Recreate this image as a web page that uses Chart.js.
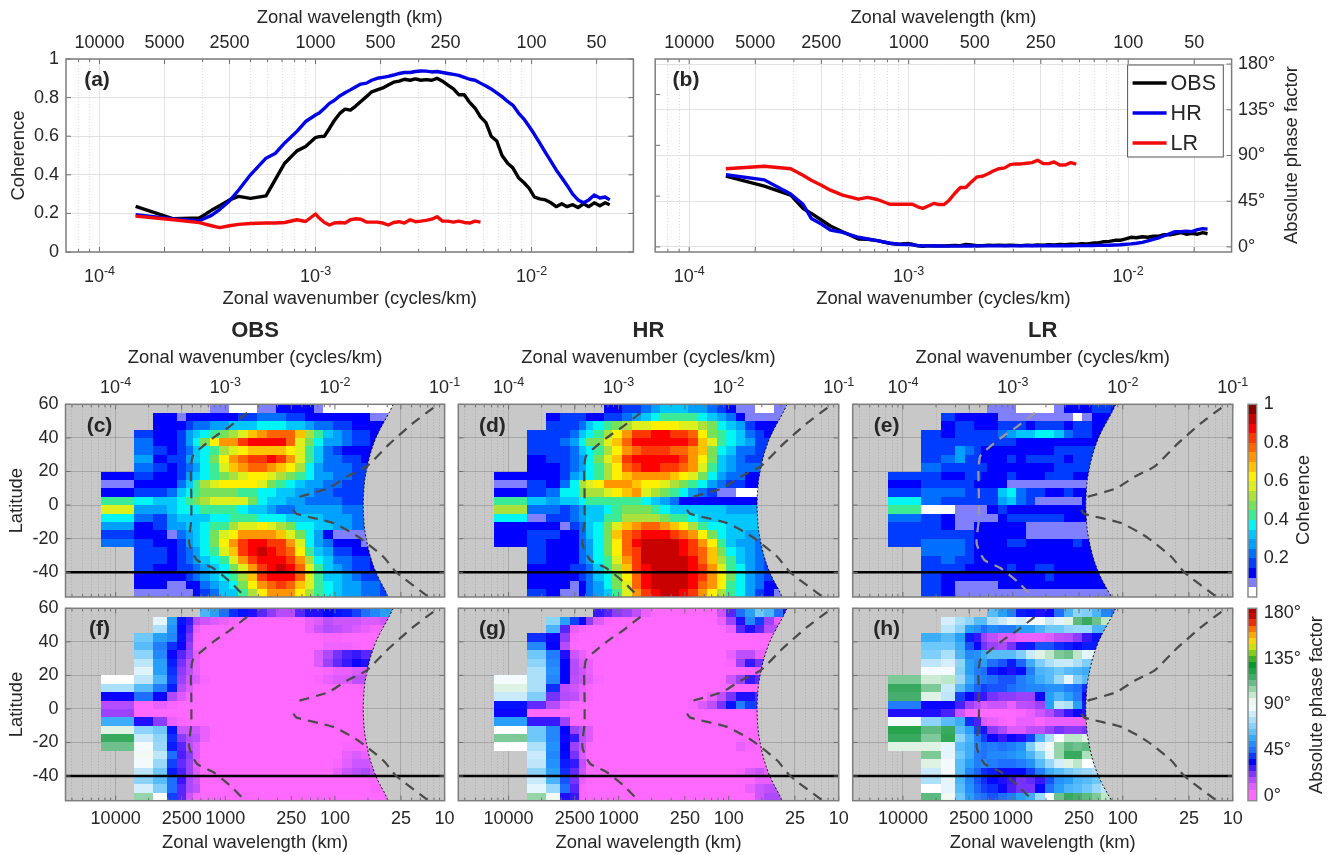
<!DOCTYPE html>
<html>
<head>
<meta charset="utf-8">
<title>Coherence and phase factor</title>
<script src="https://cdn.jsdelivr.net/npm/chart.js@4/dist/chart.umd.min.js"></script>
<style>
html, body { margin: 0; background: #fff; }
canvas { position: absolute; left: 0; top: 0; }
</style>
</head>
<body>
<script>
const _ = null;

// line panels (a) and (b)
const wavenumber = [
  1.47e-4, 2.2e-4, 2.9e-4, 3.3e-4, 3.6e-4, 4.0e-4, 4.4e-4, 5.0e-4, 5.9e-4, 6.5e-4, 7.2e-4, 8.2e-4, 9.0e-4,
  1.0e-3, 1.04e-3, 1.1e-3, 1.16e-3, 1.22e-3, 1.3e-3, 1.37e-3, 1.45e-3, 1.53e-3, 1.62e-3,
  1.72e-3, 1.82e-3, 1.93e-3, 2.05e-3, 2.17e-3, 2.3e-3, 2.44e-3, 2.58e-3, 2.74e-3, 2.9e-3,
  3.07e-3, 3.25e-3, 3.45e-3, 3.65e-3, 3.87e-3, 4.1e-3, 4.35e-3, 4.6e-3, 4.88e-3, 5.17e-3,
  5.48e-3, 5.8e-3, 6.15e-3, 6.5e-3, 6.9e-3, 7.3e-3, 7.75e-3, 8.2e-3, 8.7e-3, 9.2e-3, 9.75e-3,
  1.03e-2, 1.09e-2, 1.16e-2, 1.23e-2, 1.3e-2, 1.38e-2, 1.46e-2, 1.55e-2, 1.64e-2, 1.74e-2, 1.84e-2, 1.95e-2, 2.07e-2, 2.19e-2, 2.3e-2
];
const coherenceOBS = [
  .236, .172, .176, .216, .240, .270, .288, .278, .291, .374, .460, .524, .547,
  .593, .598, .600, .640, .680, .720, .740, .735, .755, .780,
  .805, .830, .840, .850, .865, .880, .885, .895, .890, .897,
  .890, .893, .890, .900, .885, .865, .845, .815, .815, .775,
  .745, .700, .670, .600, .575, .500, .460, .435, .385, .360, .330,
  .285, .275, .270, .255, .235, .250, .235, .245, .230, .250, .235, .255, .240, .255, .245
];
const coherenceHR = [
  .193, .171, .162, .190, .220, .265, .320, .400, .486, .510, .565, .625, .676,
  .710, .720, .745, .770, .785, .810, .825, .840, .855, .870,
  .875, .890, .900, .905, .910, .917, .925, .930, .930, .935,
  .938, .937, .933, .935, .930, .925, .920, .915, .905, .895,
  .890, .875, .860, .845, .825, .805, .780, .760, .720, .690, .650,
  .610, .565, .515, .470, .425, .385, .345, .300, .270, .255, .270, .295, .280, .285, .270
];
const coherenceLR = [
  .186, .167, .152, .136, .126, .136, .143, .148, .150, .150, .153, .167, .158,
  .197, .176, .153, .140, .150, .153, .150, .167, .172, .170,
  .155, .155, .155, .150, .140, .153, .157, .150, .167, .157,
  .160, .164, .170, .183, .160, .160, .155, .160, .153, .150,
  .160, .155
];
const phaseOBS = [
  69.6, 59.8, 51, 37.9, 33, 26.5, 20.6, 15, 7.8, 7.5, 6.2, 3.6, 2.6,
  3.3, 2.6, 1, .7, 1, 1, 1, 1, 1.2, 1.5,
  1.3, 2.5, 2, 1.2, 1.3, 1.6, 1.5, 1.8, 1.4, 1.6,
  1.5, 1.3, 1.8, 1.4, 2, 1.6, 2.2, 2, 2.5, 2.2,
  2.8, 2.5, 3.2, 3, 3.8, 4, 5.2, 5.5, 6.5, 6.5, 8,
  9.5, 9, 10, 9.5, 10.5, 10.5, 12, 12, 13, 14, 12.5, 13.5, 12.5, 14, 13
];
const phaseHR = [
  71, 66, 52, 42, 28, 22.5, 16.7, 14.4, 9.5, 7.8, 6.2, 3.6, 2.6,
  2.4, 2, 1.4, 1, 1, .9, .9, .8, .8, .8,
  .8, .9, .9, 1, 1, 1, 1, 1, 1, 1,
  1, 1, 1.1, 1.1, 1.1, 1.1, 1.2, 1.2, 1.2, 1.2,
  1.2, 1.3, 1.3, 1.3, 1.4, 1.5, 1.6, 1.7, 1.9, 2.1, 2.6,
  3, 3.6, 4.5, 6, 7.5, 9, 11, 13, 15, 15, 15.5, 15, 17, 18, 17.5
];
const phaseLR = [
  77, 79.4, 77, 70.6, 65.7, 60.8, 55.9, 51, 47, 48.7, 46.7, 42, 42,
  42, 42, 39.5, 38, 40, 42.8, 41.8, 41.8, 46, 52.6,
  58.5, 58.5, 64, 69, 69.6, 72, 75, 77, 77.8, 81,
  81.7, 81.7, 82.4, 83, 85.3, 82, 82, 83.7, 80.7, 80.7,
  83, 81.4
];

// axis labels
const lineWavelengths = [10000, 5000, 2500, 1000, 500, 250, 100, 50];
const heatWavelengths = [10000, 2500, 1000, 250, 100, 25, 10];
const lineDecades = [1e-4, 1e-3, 1e-2];
const heatDecades = [1e-4, 1e-3, 1e-2, 1e-1];
const latTicks = [60, 40, 20, 0, -20, -40];
const coherenceTicks = [0, .2, .4, .6, .8, 1];
const phaseTicks = [0, 45, 90, 135, 180];
const leftPhaseTicks = [0, 50, 100, 150];

// dashed curves, same in every map panel
const dashLeftK = [1.58e-3, 1.10e-3, 7.76e-4, 5.75e-4, 5.04e-4, 4.86e-4, 4.9e-4, 4.9e-4, 4.68e-4, 5.5e-4, 7.76e-4, 1.10e-3, 1.51e-3];
const dashLeftLat = [54.9, 46.9, 40, 33, 29, 21, 7.2, -8.7, -22.7, -32.6, -37.6, -45.5, -54.5];
const dashUpperK = [.0789, .0518, .0309, .0195, .0129, .0087, .00432];
const dashUpperLat = [57.9, 48.9, 36, 23, 17, 10, 4.2];
const dashLowerK = [.00417, .00447, .00966, .0162, .0275, .0363, .0708];
const dashLowerLat = [-2.8, -5.2, -10.7, -18.7, -30.6, -40, -54.5];

// right limit of the data
const edgeLat = [60, 55, 50, 45, 40, 35, 30, 25, 20, 15, 10, 5, 0, -5, -10, -15, -20, -25, -30, -35, -40, -45, -50, -54.7];
const edgeHigh = [.034, .0312, .0283, .0257, .0236, .0221, .0209, .02, .0193, .0187, .0184, .0182, .0181, .0182, .0184, .0187, .0193, .02, .0209, .0221, .0236, .0257, .0283, .0306];
const edgeLow = [.00864, .00793, .00719, .00653, .006, .00562, .00531, .00508, .0049, .00475, .00468, .00463, .0046, .00463, .00468, .00475, .0049, .00508, .00531, .00562, .006, .00653, .00719, .0079];

// map cells: column edges in cycles/km, row edges in degrees
const cellK = [7.3e-5, 1.46e-4, 2.2e-4, 2.95e-4, 3.65e-4, 4.4e-4, 5.1e-4, 5.85e-4, 7.3e-4, 8.76e-4, 1.07e-3, 1.31e-3, 1.6e-3, 1.95e-3, 2.38e-3, 2.9e-3, 3.55e-3, 4.3e-3, 5.3e-3, 6.4e-3, 7.8e-3, 9.5e-3, .0116, .0142, .0173, .021, .0257, .0314, .038];
const cellLat = [60, 55, 50, 45, 40, 35, 30, 25, 20, 15, 10, 5, 0, -5, -10, -15, -20, -25, -30, -35, -40, -45, -50, -55];

// coherence in percent
const mapOBS = [
  [_,_,_,_,_,_,_,_,7,7,4,4,4,7,8,12,12,12,10,8,4,4,4,4,4,4,4,4],
  [_,_,12,12,8,10,10,12,12,14,14,16,18,20,20,20,18,15,14,12,12,12,12,12,10,8,7],
  [_,_,12,12,12,15,20,22,25,28,30,30,32,35,35,35,32,30,25,22,20,18,16,14,14,12],
  [_,18,14,14,16,25,32,38,42,48,50,58,68,72,75,78,78,65,50,40,32,25,20,18,15,12],
  [_,20,14,14,18,25,35,45,60,70,72,82,85,88,89,86,78,58,45,35,28,25,20,18,15,14],
  [_,22,16,12,16,22,30,38,42,50,58,60,65,68,66,65,62,58,42,30,22,16,14,13,12],
  [_,25,14,16,18,25,30,38,48,60,70,75,80,84,85,80,70,58,40,30,24,20,18,16,14],
  [_,20,16,14,16,22,28,35,42,55,65,72,75,75,72,68,60,50,36,28,24,22,20,16],
  [12,18,14,12,18,25,30,38,40,45,52,58,60,60,58,52,48,42,35,28,25,22,20,18],
  [5,14,12,14,22,32,40,50,58,60,62,62,60,55,48,40,35,30,28,25,22,20,18,16],
  [14,15,16,20,30,38,42,46,46,46,45,42,40,38,35,32,30,28,25,22,20,16,16,16],
  [42,38,30,32,38,40,45,52,58,56,58,55,45,38,32,30,28,26,24,22,20,20,18,18],
  [55,28,25,30,35,36,38,40,42,42,40,38,34,30,26,22,24,26,28,28,28,26,24,24],
  [38,22,18,25,30,32,32,34,36,38,40,42,40,38,36,35,34,34,32,30,28,28,26,24],
  [26,14,16,26,28,30,32,36,40,44,50,55,58,60,58,52,45,38,35,32,30,28,26,24],
  [18,14,14,7,22,26,30,38,45,55,62,70,72,72,70,68,58,48,35,25,14,8,6,5,7],
  [24,15,14,12,18,25,30,38,45,62,72,80,85,86,84,80,70,55,38,28,20,14,12,10,8],
  [_,16,16,14,18,22,28,36,42,55,68,82,88,91,88,84,78,62,42,30,25,18,16,14,14],
  [_,16,16,14,16,20,26,30,36,42,55,70,82,87,88,86,84,72,50,35,30,24,20,18,15,14],
  [_,16,14,14,16,18,22,28,32,38,45,58,72,84,88,91,86,75,55,40,32,26,22,18,16,14],
  [_,12,12,12,14,15,20,26,30,36,42,52,66,80,86,89,88,78,58,42,34,30,26,22,18,16],
  [_,12,10,8,8,10,14,22,26,32,38,48,60,70,78,80,76,66,55,42,35,30,28,25,22,20,18],
  [_,8,8,7,8,8,12,18,24,30,34,42,52,62,72,74,70,62,52,42,36,32,28,26,22,20,18]
];
const mapHR = [
  [_,_,_,_,_,_,_,_,12,14,15,18,20,25,30,32,30,28,25,20,15,10,7,5,4,4,5,6],
  [_,_,14,15,16,16,14,14,16,18,22,28,34,38,40,42,40,40,35,30,25,20,14,8,6,6,8],
  [_,_,15,15,18,24,30,35,40,48,50,55,58,62,60,60,58,58,50,45,38,32,25,18,14,10],
  [_,16,18,18,22,30,38,44,50,62,70,80,84,86,86,84,82,75,60,48,40,35,30,22,16,12],
  [_,16,18,20,26,36,45,48,55,65,78,85,87,88,88,87,85,80,68,55,42,35,30,25,18],
  [_,15,16,18,22,30,38,44,52,60,70,75,80,80,80,78,75,72,65,48,38,30,24,20,16],
  [_,14,18,18,20,28,38,45,55,68,80,85,87,88,88,86,80,74,62,45,34,26,22,18],
  [_,14,14,18,22,28,35,44,52,62,76,84,86,86,84,80,76,72,58,42,32,28,24,20],
  [12,14,12,16,25,30,36,42,50,60,68,72,74,74,70,65,60,55,45,35,28,24,20,14],
  [8,16,12,20,35,50,58,62,70,72,72,68,62,60,55,50,45,40,35,28,22,18,16,14],
  [12,16,22,36,38,45,50,54,58,62,66,70,58,52,48,42,35,28,22,15,8,6,4,4],
  [42,32,28,32,34,36,40,42,42,40,42,44,38,30,26,20,14,12,10,10,10,10,12,10],
  [52,22,20,18,22,28,30,34,38,40,46,48,45,42,38,34,32,32,30,30,30,28,26,26],
  [35,8,18,16,22,26,30,34,40,44,50,54,52,50,46,44,40,36,34,34,32,30,32,32],
  [14,14,12,7,16,24,30,36,46,55,65,72,76,75,72,68,60,50,42,38,36,34,34,30],
  [12,15,16,10,14,22,30,38,48,65,78,84,88,88,85,84,78,70,60,46,36,32,30,28,25],
  [12,15,14,14,14,20,28,38,46,62,78,85,90,92,92,90,85,80,72,60,42,32,28,25,22],
  [_,16,14,12,14,20,28,36,46,60,75,84,90,93,93,92,88,84,78,65,48,38,30,25,22],
  [_,15,12,13,14,20,26,35,42,55,70,82,90,92,93,93,90,86,78,68,50,40,32,25,22,16],
  [_,14,14,14,15,18,24,30,40,50,65,80,88,92,93,93,92,88,80,70,55,42,35,28,22,16],
  [_,14,12,12,14,18,24,30,38,48,60,78,86,90,92,92,90,86,80,72,60,45,36,28,22,16],
  [_,14,12,10,8,14,22,28,36,46,58,75,85,92,93,93,92,85,78,70,60,44,36,28,20,14,12],
  [_,15,12,7,8,12,20,26,32,42,55,72,82,88,90,90,88,80,72,62,52,42,35,25,18,10,8]
];
const mapLR = [
  [_,_,_,_,_,_,_,8,7,5,4,4,4,4,7,12,12,12,16,16,12],
  [_,_,16,12,12,10,10,10,7,8,7,6,7,7,7,6,4,7,12,12,12],
  [_,_,12,15,16,13,13,13,16,16,16,13,16,16,16,13,16,16,12,12],
  [_,18,12,16,16,16,16,16,22,26,30,34,35,35,30,22,16,16,12],
  [_,18,15,16,15,16,16,16,15,16,12,12,12,10,13,13,12,13,12],
  [_,15,18,25,20,16,12,12,12,12,12,12,12,13,16,16,16,16],
  [_,18,22,28,18,16,13,12,13,16,13,16,16,16,16,13,16,16],
  [_,20,16,18,18,15,16,12,13,13,13,12,12,12,16,16,16,16],
  [16,16,12,13,16,16,12,12,12,16,12,13,12,16,16,16,13,12],
  [12,16,18,16,16,13,13,13,12,8,7,7,7,8,7,7,7,7],
  [16,22,20,20,16,16,16,16,30,36,24,16,16,12,12,16,12,12],
  [36,20,16,15,16,16,16,16,26,34,24,16,8,7,6,8,8,10],
  [42,4,4,6,7,8,7,12,16,13,12,12,10,13,13,13,12,12],
  [24,16,12,7,7,7,7,8,12,16,16,16,16,16,16,13,12,12],
  [18,16,12,7,7,12,12,13,13,13,12,8,8,7,5,5,5,8],
  [18,15,16,16,16,13,13,13,12,13,13,8,7,7,8,7,7,8],
  [16,22,20,20,15,13,13,13,13,16,16,13,13,13,13,13,16,13],
  [_,24,24,22,16,13,13,12,13,13,12,12,13,12,12,12,13,13,13],
  [_,18,22,16,16,13,13,13,12,12,12,12,12,12,12,12,13,13,13],
  [_,16,16,16,13,13,13,13,13,16,13,13,16,16,13,13,13,12,12],
  [_,16,12,13,12,12,12,12,12,12,13,13,12,16,13,13,12,12,12,12],
  [_,16,12,7,7,7,8,8,12,12,12,12,13,12,12,12,12,12,12,12],
  [_,15,12,7,7,7,7,7,7,7,7,5,5,7,7,8,8,8,8,7,7]
];

// absolute phase factor in degrees
const phiOBS = [
  [_,_,_,_,_,_,_,60,55,45,38,35,30,25,20,15,15,25,30,30,33,35,36,40,45,50,55,55],
  [_,_,85,55,35,28,15,12,10,8,6,4,3,3,3,3,3,5,8,10,14,12,12,12,10,10,12],
  [_,_,75,52,34,25,8,4,2,2,2,2,2,2,2,2,2,3,8,12,15,14,12,10,8,6],
  [_,65,55,50,35,22,6,3,2,2,2,2,2,2,2,2,2,3,4,5,6,6,5,4,4,3],
  [_,62,48,38,32,20,5,3,2,2,2,2,2,2,2,2,2,2,3,5,7,7,7,6,5],
  [_,70,50,32,25,18,8,3,2,2,2,2,2,2,2,2,2,2,5,10,16,22,26,28,25],
  [_,78,55,36,22,14,8,3,2,2,2,2,2,2,2,2,2,2,4,10,18,24,28,32,30],
  [_,84,55,38,20,14,8,4,2,2,2,2,2,2,2,2,2,2,2,4,6,8,8,10,10],
  [90,78,60,40,18,12,10,6,4,3,2,2,2,2,2,2,2,2,3,6,8,10,10,14],
  [75,62,48,36,15,10,6,3,2,2,2,2,2,2,2,2,2,2,2,2,3,4,5],
  [32,45,32,16,10,6,4,2],
  [15,5,8,6,5,4,3,2],
  [18,3,3,3,3,3,2],
  [58,30,20,8,6,4,2],
  [95,70,65,35,12,12,12,8,3,2],
  [118,80,70,38,20,15,14,8,4,2,2,2,2,2,2,2,2,2,2,3,4,5,5,5],
  [110,88,72,36,25,14,10,4,2,2,2,2,2,2,2,2,2,2,2,2,4,5,6,6,5],
  [_,92,78,45,26,20,10,3,2,2,2,2,2,2,2,2,2,2,2,2,2,5,8,10,8],
  [_,88,72,40,24,18,8,4,2,2,2,2,2,2,2,2,2,2,2,2,3,6,9,12,12,8],
  [_,78,65,36,26,18,10,4,2,2,2,2,2,2,2,2,2,2,2,2,5,8,12,14,16,12],
  [_,70,62,45,28,16,12,3,2,2,2,2,2,2,2,2,2,2,2,2,2,3,4,5,5,4],
  [_,82,68,45,25,16,14,3,2,2,2,2,2,2,2,2,2,2,2,2,2,2,2,3,5,6,4],
  [_,105,90,40,25,12,6,2,2,2,2,2,2,2,2,2,2,2,2,2,2,2,2,2,4,5,5]
];
const phiHR = [
  [_,_,_,_,_,_,_,28,25,20,18,14,8,4,2,2,2,2,3,5,12,25,45,55,65,60,45,30],
  [_,_,70,55,40,32,20,10,6,5,3,2,2,2,2,2,2,2,2,3,8,18,30,50,40,18,8],
  [_,_,60,25,8,6,4,2,2,2,2,2,2,2,2,2,2,2,2,2,3,8,25,30,25,15],
  [_,38,32,20,6,4,3,2,2,2,2,2,2,2,2,2,2,2,2,2,2,2,3,4,3],
  [_,50,33,15,5,3,2],
  [_,65,48,30,12,8,4,3,2,2,2,2,2,2,2,2,2,2,2,2,3,8,14,14,8],
  [_,70,50,33,15,10,8,5,3,2,2,2,2,2,2,2,2,2,2,2,2,6,18,28,22],
  [_,75,52,33,15,12,8,5,4,3,2,2,2,2,2,2,2,2,2,2,2,3,4,6,8],
  [88,75,50,33,14,12,9,6,3,2,2,2,2,2,2,2,2,2,2,3,5,12,18,28,24],
  [95,75,38,14,12,8,6,5,3,2],
  [80,68,22,15,14,8,6,5,3,2,2,2,2,2,2,2,2,3,4,8,14,22,30,30,24],
  [35,24,15,8,6,5,3,2,2,2,2,2,2,2,2,2,3,6,10,14,22,35,48,40,25],
  [32,3,3,3,3,2],
  [55,28,28,18,4,3,3,2],
  [90,65,50,33,18,14,10,4,2],
  [108,65,50,32,28,14,10,4,2],
  [90,75,52,33,18,12,5,2,2,2,2,2,2,2,2,2,2,2,2,2,2,4,8,6,2],
  [_,80,50,34,22,10,4,2],
  [_,78,52,36,28,14,4,2,2,2,2,2,2,2,2,2,2,2,2,2,2,2,2,3,4],
  [_,70,55,38,24,12,3,2,2,2,2,2,2,2,2,2,2,2,2,2,2,3,6,10,12,8],
  [_,80,60,42,22,8,3,2,2,2,2,2,2,2,2,2,2,2,2,2,2,2,2,5,8,8],
  [_,85,72,45,25,6,3,2,2,2,2,2,2,2,2,2,2,2,2,2,2,2,3,8,12,14,14],
  [_,105,92,30,28,6,3,2,2,2,2,2,2,2,2,2,2,2,2,2,2,2,2,5,12,16,16]
];
const phiLR = [
  [_,_,_,_,_,_,_,62,55,48,36,35,30,32,45,60,70,68,60,50,45],
  [_,_,82,75,70,62,62,75,80,85,82,88,88,80,85,95,112,118,110,100],
  [_,_,78,70,55,52,45,50,48,48,55,55,60,65,65,70,72,72,60],
  [_,58,62,55,36,28,18,14,10,10,8,8,8,10,14,15,20,28,35],
  [_,65,65,58,42,32,22,18,16,22,30,36,42,42,38,36,34,36],
  [_,68,75,60,50,52,58,62,62,62,68,80,95,100,108,110,100,85],
  [_,78,82,70,55,50,55,45,42,36,44,58,68,75,80,80,75,68],
  [_,88,88,68,55,48,45,36,32,30,34,48,60,62,65,62,60,58],
  [108,98,100,72,58,50,48,45,42,42,48,52,58,62,72,85,68,62],
  [118,108,80,62,52,44,40,42,42,45,48,50,50,52,52,48,45,38],
  [115,95,78,40,32,28,28,22,20,20,18,18,32,55,60,55,48,32],
  [48,32,32,26,18,14,10,12,12,8,14,15,18,55,78,75,55,36],
  [30,30,26,12,6,4,4,4,4,4,6,8,12,16,22,28,32,30],
  [88,70,62,58,38,26,10,8,6,5,8,8,6,8,8,8,8,8],
  [122,112,118,62,55,40,30,20,16,10,10,14,14,18,22,20,20,22],
  [118,108,120,70,60,48,40,32,28,32,30,40,60,75,90,100,100,95],
  [95,95,85,62,58,50,46,48,45,48,52,68,82,92,105,112,110,112],
  [_,108,85,65,58,48,46,50,50,52,55,60,70,85,105,118,118,102],
  [_,95,88,62,55,48,50,48,45,45,48,52,62,72,82,95,100,90,85],
  [_,80,88,62,50,44,38,36,32,32,34,40,48,58,62,66,70,72,75],
  [_,75,85,60,50,42,38,34,30,28,22,24,28,42,52,55,60,62,65,70],
  [_,90,85,62,52,44,40,38,32,26,22,22,34,46,55,60,62,65,72,78],
  [_,112,92,65,55,48,45,42,45,48,55,58,72,90,110,118,115,112,108,100,95]
];

// colour bar levels
const coherenceLevels = [[97.5],[92.5],[87.5],[82.5],[77.5],[72.5],[67.5],[62.5],[57.5],[52.5],[47.5],[42.5],[37.5],[32.5],[27.5],[22.5],[17.5],[12.5],[7.5],[2.5]];
const coherenceBarEdges = [1,.95,.9,.85,.8,.75,.7,.65,.6,.55,.5,.45,.4,.35,.3,.25,.2,.15,.1,.05,0];
const phaseLevels = [[183],[177],[171],[165],[159],[153],[147],[141],[135],[129],[123],[117],[111],[105],[99],[93],[87],[81],[75],[69],[63],[57],[51],[45],[39],[33],[27],[21],[15],[9],[3],[-3]];
const phaseBarEdges = [185,180,174,168,162,156,150,144,138,132,126,120,114,108,102,96,90,84,78,72,66,60,54,48,42,36,30,24,18,12,6,0,-5];

const FONT = '"Liberation Sans", Arial, sans-serif';
const KMIN = 7.05e-5, KMAX = 2.96e-2;
const MAP_KMIN = 3.49e-5, MAP_KMAX = 0.1;
const TEXT = '#262626';

Chart.defaults.font.family = FONT;
Chart.defaults.font.size = 18;
Chart.defaults.color = TEXT;
Chart.defaults.animation = false;

const cohColors = ['#ffffff','#8080ff','#0000ff','#003cff','#006eff','#00a0ff','#00c8ff','#00f5f5','#3ceb96','#78e15a','#aae13c','#dcf01e','#fff000','#ffc300','#ff9600','#ff6400','#ff3700','#ff0000','#c80000','#820000'];
const phaseStops = [[0,255,105,255],[5,255,105,255],[12,205,85,255],[20,140,60,255],[33,0,0,255],[45,30,110,255],[55,40,160,250],[65,110,200,250],[78,190,230,250],[90,255,255,255],[100,190,230,200],[115,70,175,110],[130,0,150,40],[140,120,200,30],[150,240,235,0],[162,255,150,0],[172,240,30,0],[180,170,0,0]];

function cohColor(v) {
  return cohColors[Math.min(19, Math.floor(v / 5))];
}
function phaseColor(v) {
  v = Math.max(0, Math.min(180, v));
  for (let i = 1; i < phaseStops.length; i++) {
    const a = phaseStops[i - 1], b = phaseStops[i];
    if (v <= b[0]) {
      const t = (v - a[0]) / (b[0] - a[0]);
      return `rgb(${[1, 2, 3].map(j => Math.round(a[j] + t * (b[j] - a[j]))).join(',')})`;
    }
  }
}

function zip(xs, ys) {
  return ys.map((y, i) => ({x: xs[i], y: y}));
}
function near(a, b) {
  return Math.abs(a / b - 1) < 0.01;
}
function kTicks(min, max, majors) {
  const out = [];
  for (let e = -5; e <= -1; e++) {
    for (let m = 1; m <= 9; m++) {
      const v = m * Math.pow(10, e);
      if (v >= min * 0.999 && v <= max * 1.001) {
        out.push({value: v, major: majors.some(k => near(k, v))});
      }
    }
  }
  return out;
}

// one log wavenumber axis
function kAxis(o) {
  return {
    type: 'logarithmic', position: o.position, min: o.min, max: o.max,
    afterFit: s => { s.height = o.size; },
    afterBuildTicks: s => { s.ticks = o.ticks.map(t => ({value: t.value, major: t.major})); },
    ticks: {
      autoSkip: false, maxRotation: 0, minRotation: 0, padding: o.pad || 0,
      callback: v => {
        const hit = (o.labels || []).find(l => near(1 / l, v));
        return hit ? String(hit) : '';
      }
    },
    grid: {
      display: !!o.grid, drawTicks: false,
      color: c => c.tick && c.tick.major ? o.gridMajor : o.gridMinor,
      lineWidth: 1
    },
    border: {display: false, dash: c => c.tick && c.tick.major ? [] : [1, 2]},
    title: o.title ? {display: true, text: o.title, font: {size: 18.4}, padding: {top: 1, bottom: 1}} : {display: false}
  };
}
function valueAxis(o) {
  return {
    type: 'linear', position: o.position, min: o.min, max: o.max,
    afterFit: s => { s.width = o.size; },
    afterBuildTicks: s => { s.ticks = o.ticks.map(v => ({value: v})); },
    ticks: {
      autoSkip: false, padding: o.pad || 0,
      callback: v => o.labels ? o.labels(v) : ''
    },
    grid: {display: !!o.grid, drawTicks: false, color: o.grid || '#e2e2e2', lineWidth: 1},
    border: {display: false},
    title: o.title ? {display: true, text: o.title, font: {size: 18.4}, padding: {top: 1, bottom: 1}} : {display: false}
  };
}

// box, inner tick marks, free text and superscript tick labels
function framePlugin(o) {
  return {
    id: 'frame',
    afterDraw(chart) {
      const {ctx, chartArea: a, scales} = chart;
      ctx.save();
      ctx.strokeStyle = '#6e6e6e';
      ctx.lineWidth = 1;
      ctx.beginPath();
      (o.tickX ? [o.tickX] : []).forEach(id => {
        scales[id].ticks.forEach(t => {
          const x = scales[id].getPixelForValue(t.value), n = t.major ? 5 : 3;
          ctx.moveTo(x, a.bottom); ctx.lineTo(x, a.bottom - n);
          ctx.moveTo(x, a.top); ctx.lineTo(x, a.top + n);
        });
      });
      (o.tickLeft ? [o.tickLeft] : []).forEach(id => {
        scales[id].ticks.forEach(t => {
          const y = scales[id].getPixelForValue(t.value);
          ctx.moveTo(a.left, y); ctx.lineTo(a.left + 5, y);
        });
      });
      (o.tickRight ? [o.tickRight] : []).forEach(id => {
        scales[id].ticks.forEach(t => {
          const y = scales[id].getPixelForValue(t.value);
          ctx.moveTo(a.right, y); ctx.lineTo(a.right - 5, y);
        });
      });
      ctx.stroke();
      ctx.strokeStyle = o.boxColor || '#7d7d7d';
      ctx.lineWidth = 1.5;
      ctx.strokeRect(a.left, a.top, a.right - a.left, a.bottom - a.top);

      ctx.fillStyle = TEXT;
      if (o.decades) {
        const d = o.decades, s = scales[d.scale];
        d.values.forEach(v => {
          const base = '10', exp = String(Math.round(Math.log10(v)));
          ctx.font = `18px ${FONT}`;
          const w0 = ctx.measureText(base).width;
          ctx.font = `12.5px ${FONT}`;
          const w1 = ctx.measureText(exp).width;
          const x0 = s.getPixelForValue(v) - (w0 + w1) / 2;
          ctx.textAlign = 'left';
          ctx.textBaseline = 'alphabetic';
          ctx.font = `18px ${FONT}`;
          ctx.fillText(base, x0, d.y);
          ctx.font = `12.5px ${FONT}`;
          ctx.fillText(exp, x0 + w0, d.y - 7);
        });
      }
      (o.texts || []).forEach(t => {
        ctx.save();
        ctx.translate(t.x, t.y);
        if (t.rot) ctx.rotate(t.rot);
        ctx.font = t.font;
        ctx.textAlign = t.align || 'center';
        ctx.textBaseline = 'middle';
        ctx.fillText(t.text, 0, 0);
        ctx.restore();
      });
      if (o.legend) {
        const b = o.legend;
        ctx.fillStyle = '#fff';
        ctx.fillRect(b.l, b.t, b.r - b.l, b.b - b.t);
        ctx.strokeStyle = '#555';
        ctx.lineWidth = 1;
        ctx.strokeRect(b.l, b.t, b.r - b.l, b.b - b.t);
        chart.data.datasets.forEach((ds, i) => {
          const y = b.t + 18 + i * 30;
          ctx.strokeStyle = ds.borderColor;
          ctx.lineWidth = 3.5;
          ctx.beginPath();
          ctx.moveTo(b.l + 5, y);
          ctx.lineTo(b.l + 39, y);
          ctx.stroke();
          ctx.fillStyle = TEXT;
          ctx.font = `21.5px ${FONT}`;
          ctx.textAlign = 'left';
          ctx.textBaseline = 'middle';
          ctx.fillText(ds.label, b.l + 43, y + 1);
        });
      }
      ctx.restore();
    }
  };
}

// coloured cells placed through the chart's scales
function cellPlugin(o) {
  return {
    id: 'cells',
    beforeDraw(chart) {
      if (!o.background) return;
      const {ctx, chartArea: a} = chart;
      ctx.save();
      ctx.fillStyle = o.background;
      ctx.fillRect(a.left, a.top, a.right - a.left, a.bottom - a.top);
      ctx.restore();
    },
    beforeDatasetsDraw(chart) {
      const {ctx, chartArea: a, scales: {x, y}} = chart;
      ctx.save();
      ctx.beginPath();
      if (o.edgeK) {
        ctx.moveTo(a.left, a.top);
        o.edgeLat.forEach((lat, i) => ctx.lineTo(x.getPixelForValue(o.edgeK[i]), y.getPixelForValue(lat)));
        ctx.lineTo(a.left, a.bottom);
        ctx.closePath();
      } else {
        ctx.rect(a.left, a.top, a.right - a.left, a.bottom - a.top);
      }
      ctx.clip();
      o.rows.forEach((row, r) => {
        const y0 = Math.round(y.getPixelForValue(o.yEdges[r]));
        const y1 = Math.round(y.getPixelForValue(o.yEdges[r + 1]));
        row.forEach((v, c) => {
          if (v === null) return;
          const x0 = Math.round(x.getPixelForValue(o.xEdges[c]));
          const x1 = c === row.length - 1 ? a.right : Math.round(x.getPixelForValue(o.xEdges[c + 1]));
          ctx.fillStyle = o.color(v);
          ctx.fillRect(x0, y0, x1 - x0, y1 - y0);
        });
      });
      ctx.restore();
    }
  };
}

function addChart(area, thick, scales, datasets, plugins) {
  const canvas = document.createElement('canvas');
  canvas.width = 1332;
  canvas.height = 855;
  document.body.appendChild(canvas);
  return new Chart(canvas.getContext('2d'), {
    type: 'scatter',
    data: {datasets: datasets},
    options: {
      responsive: false,
      maintainAspectRatio: false,
      layout: {padding: {
        left: area.l - thick.l,
        top: area.t - thick.t,
        right: 1332 - area.r - thick.r,
        bottom: 855 - area.b - thick.b
      }},
      plugins: {legend: {display: false}, tooltip: {enabled: false}},
      scales: scales
    },
    plugins: plugins
  });
}

function curve(label, xs, ys, color, order) {
  return {label: label, data: zip(xs, ys), showLine: true, borderColor: color, backgroundColor: color,
    borderWidth: 3.4, pointRadius: 0, order: order, borderJoinStyle: 'round'};
}

// (a) and (b)
function linePanel(o) {
  const ticks = kTicks(KMIN, KMAX, lineWavelengths.map(l => 1 / l));
  const scales = {
    x: kAxis({position: 'bottom', min: KMIN, max: KMAX, size: 59, ticks: ticks, grid: true,
      gridMajor: '#e2e2e2', gridMinor: '#dddddd', title: 'Zonal wavenumber (cycles/km)'}),
    x2: kAxis({position: 'top', min: KMIN, max: KMAX, size: 52.7, pad: 5.5,
      ticks: lineWavelengths.map(l => ({value: 1 / l, major: true})), labels: lineWavelengths,
      title: 'Zonal wavelength (km)'}),
    y: o.left,
  };
  if (o.right) scales.y1 = o.right;
  addChart(o.area, {l: o.left.sizeValue, t: 52.7, r: o.right ? 60 : 0, b: 59}, scales, o.datasets, [framePlugin({
    tickX: 'x', tickLeft: 'y', tickRight: o.right ? 'y1' : 'y',
    decades: {scale: 'x', values: lineDecades, y: 282},
    texts: o.texts, legend: o.legend
  })]);
}

const panelA = valueAxis({position: 'left', min: 0, max: 1, size: 59, pad: 7, ticks: coherenceTicks,
  grid: '#e2e2e2', labels: v => String(v), title: 'Coherence'});
panelA.sizeValue = 59;
linePanel({
  area: {l: 66, t: 59, r: 633.4, b: 252},
  left: panelA,
  datasets: [
    curve('OBS', wavenumber, coherenceOBS, '#000000', 3),
    curve('HR', wavenumber, coherenceHR, '#0000e6', 2),
    curve('LR', wavenumber, coherenceLR, '#f00a0a', 1)
  ],
  texts: [{text: '(a)', x: 97, y: 80, font: `bold 21px ${FONT}`}]
});

const panelBLeft = valueAxis({position: 'left', min: -5, max: 185, size: 10, ticks: leftPhaseTicks});
panelBLeft.sizeValue = 10;
linePanel({
  area: {l: 655.2, t: 59, r: 1231.6, b: 252},
  left: panelBLeft,
  right: valueAxis({position: 'right', min: -5, max: 185, size: 60, pad: 6.4, ticks: phaseTicks,
    grid: '#e2e2e2', labels: v => v + '°'}),
  datasets: [
    Object.assign(curve('OBS', wavenumber, phaseOBS, '#000000', 3), {yAxisID: 'y1'}),
    Object.assign(curve('HR', wavenumber, phaseHR, '#0000e6', 2), {yAxisID: 'y1'}),
    Object.assign(curve('LR', wavenumber, phaseLR, '#f00a0a', 1), {yAxisID: 'y1'})
  ],
  legend: {l: 1127.6, t: 65, r: 1223.3, b: 157},
  texts: [
    {text: '(b)', x: 686, y: 80, font: `bold 21px ${FONT}`},
    {text: 'Absolute phase factor', x: 1291.6, y: 155, rot: -Math.PI / 2, font: `18.4px ${FONT}`}
  ]
});

// (c) to (h)
function mapPanel(o) {
  const majors = heatWavelengths.map(l => 1 / l);
  const ticks = kTicks(MAP_KMIN, MAP_KMAX, majors);
  const lineOf = (xs, ys, color, width, dash) => ({
    data: zip(xs, ys), showLine: true, borderColor: color, borderWidth: width, borderDash: dash,
    pointRadius: 0, tension: 0.2
  });
  const scales = {
    x: kAxis({position: 'bottom', min: MAP_KMIN, max: MAP_KMAX, size: o.bottomRow ? 54 : 2, pad: 7.5,
      ticks: ticks, grid: true, gridMajor: 'rgba(0,0,0,.16)', gridMinor: 'rgba(0,0,0,.14)',
      labels: o.bottomRow ? heatWavelengths : [], title: o.bottomRow ? 'Zonal wavelength (km)' : null}),
    x2: kAxis({position: 'top', min: MAP_KMIN, max: MAP_KMAX, size: o.bottomRow ? 2 : 58,
      ticks: ticks, title: o.bottomRow ? null : 'Zonal wavenumber (cycles/km)'}),
    y: valueAxis({position: 'left', min: -54.7, max: 60, size: o.first ? 60.5 : 10, pad: 7, ticks: latTicks,
      grid: 'rgba(0,0,0,.16)', labels: o.first ? v => String(v) : null, title: o.first ? 'Latitude' : null})
  };
  const edgeK = o.low ? edgeLow : edgeHigh;
  addChart(o.area, {l: o.first ? 60.5 : 10, t: o.bottomRow ? 2 : 58, r: 0, b: o.bottomRow ? 54 : 2}, scales, [
    lineOf(dashLeftK, dashLeftLat, o.leftDash || '#4a4a4a', 2.2, [10, 7]),
    lineOf(dashUpperK, dashUpperLat, '#4a4a4a', 2.2, [10, 7]),
    lineOf(dashLowerK, dashLowerLat, '#4a4a4a', 2.2, [10, 7]),
    lineOf(edgeK, edgeLat, '#111111', 1, [2, 2]),
    lineOf([MAP_KMIN, MAP_KMAX], [-40, -40], '#000000', 2.6, [])
  ], [
    cellPlugin({rows: o.rows, xEdges: cellK, yEdges: cellLat, color: o.color, background: '#c8c8c8', edgeK: edgeK, edgeLat: edgeLat}),
    framePlugin({
      tickX: 'x', tickLeft: 'y', tickRight: 'y',
      decades: o.bottomRow ? null : {scale: 'x', values: heatDecades, y: 393},
      texts: o.texts
    })
  ]);
}

const columns = [
  {l: 65.5, r: 444.6, first: true},
  {l: 458.3, r: 838.7},
  {l: 852.7, r: 1232.7, low: true}
];
const upperMaps = [mapOBS, mapHR, mapLR];
const lowerMaps = [phiOBS, phiHR, phiLR];
const modelNames = ['OBS', 'HR', 'LR'];
const upperTags = ['(c)', '(d)', '(e)'];
const lowerTags = ['(f)', '(g)', '(h)'];

columns.forEach((c, i) => {
  mapPanel({
    area: {l: c.l, t: 404.3, r: c.r, b: 597}, first: c.first, low: c.low,
    rows: upperMaps[i], color: cohColor, leftDash: c.low ? '#9a9a9a' : null,
    texts: [
      {text: upperTags[i], x: c.l + 34, y: 426, font: `bold 21px ${FONT}`},
      {text: modelNames[i], x: (c.l + c.r) / 2, y: 330.7, font: `bold 22px ${FONT}`}
    ]
  });
  mapPanel({
    area: {l: c.l, t: 608.3, r: c.r, b: 800.7}, first: c.first, low: c.low, bottomRow: true,
    rows: lowerMaps[i], color: phaseColor,
    texts: [{text: lowerTags[i], x: c.l + 34, y: 629, font: `bold 21px ${FONT}`}]
  });
});

// colour bars
function colorBar(o) {
  const scales = {
    x: {type: 'linear', min: 0, max: 1, display: false},
    y: valueAxis({position: 'right', min: o.min, max: o.max, size: 60, pad: 7, ticks: o.ticks, labels: o.label})
  };
  addChart(o.area, {l: 0, t: 0, r: 60, b: 0}, scales, [], [
    cellPlugin({rows: o.rows, xEdges: [0, 1], yEdges: o.edges, color: o.color}),
    framePlugin({texts: o.texts, boxColor: '#8a8a8a'})
  ]);
}
colorBar({
  area: {l: 1248, t: 404.3, r: 1256.7, b: 597}, min: 0, max: 1,
  ticks: coherenceTicks.slice(1), label: v => String(v),
  rows: coherenceLevels, edges: coherenceBarEdges, color: cohColor,
  texts: [{text: 'Coherence', x: 1304, y: 500, rot: -Math.PI / 2, font: `18.4px ${FONT}`}]
});
colorBar({
  area: {l: 1248, t: 608.3, r: 1256.7, b: 800.7}, min: -5, max: 185,
  ticks: phaseTicks, label: v => v + '°',
  rows: phaseLevels, edges: phaseBarEdges, color: phaseColor,
  texts: [{text: 'Absolute phase factor', x: 1316.7, y: 705, rot: -Math.PI / 2, font: `18.4px ${FONT}`}]
});
</script>
</body>
</html>
